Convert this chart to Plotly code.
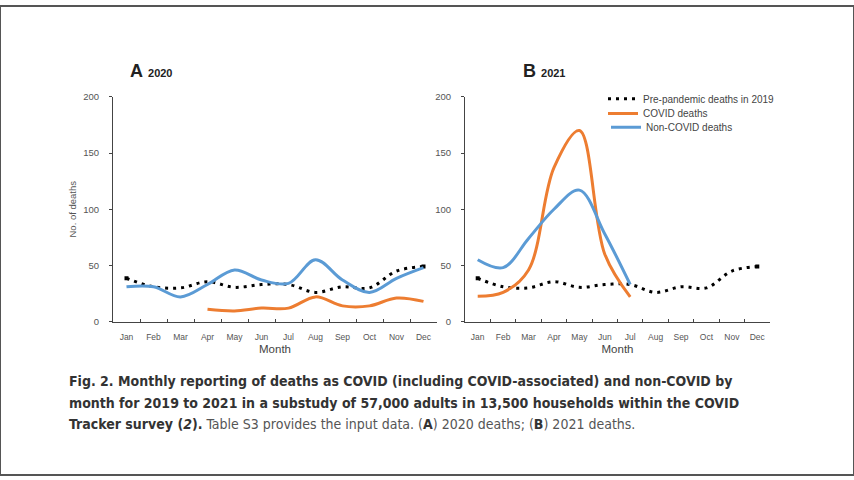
import plotly.graph_objects as go

months = ["Jan", "Feb", "Mar", "Apr", "May", "Jun", "Jul", "Aug", "Sep", "Oct", "Nov", "Dec"]
pre_2019 = [38.5, 31, 30, 35.5, 30.5, 33, 33, 26, 31, 30, 45, 49]
covid_2020 = [None, None, None, 11, 9.5, 12, 12, 22, 14, 14, 21, 18]
noncovid_2020 = [31, 31, 22, 33, 46, 37, 34, 55, 37, 26, 38.5, 48]
covid_2021 = [22.5, 26, 46, 137, 170, 60, 22]
noncovid_2021 = [55, 48, 74, 100, 117, 78, 33]

ORANGE = "#ED7D31"
BLUE = "#5B9BD5"
DOT = "3px,5px"
FONT = "Liberation Sans, Arial, sans-serif"

fig = go.Figure()

def add_panel(xa, ya, covid, noncovid, show_legend):
    fig.add_trace(go.Scatter(x=months, y=pre_2019, mode="lines", name="Pre-pandemic deaths in 2019",
                             line=dict(color="black", width=3, dash=DOT, shape="spline", smoothing=1),
                             xaxis=xa, yaxis=ya, showlegend=show_legend, legend="legend"))
    fig.add_trace(go.Scatter(x=[months[0], months[-1]], y=[pre_2019[0], pre_2019[-1]], mode="markers",
                             marker=dict(symbol="square", size=4, color="black"),
                             xaxis=xa, yaxis=ya, showlegend=False, hoverinfo="skip"))
    fig.add_trace(go.Scatter(x=months[:len(covid)], y=covid, mode="lines", name="COVID deaths",
                             line=dict(color=ORANGE, width=3, shape="spline", smoothing=1),
                             xaxis=xa, yaxis=ya, showlegend=show_legend, legend="legend2"))
    fig.add_trace(go.Scatter(x=months[:len(noncovid)], y=noncovid, mode="lines", name="Non-COVID deaths",
                             line=dict(color=BLUE, width=3, shape="spline", smoothing=1),
                             xaxis=xa, yaxis=ya, showlegend=show_legend, legend="legend3"))

add_panel("x", "y", covid_2020, noncovid_2020, False)
add_panel("x2", "y2", covid_2021, noncovid_2021, True)

y_dom = [(480 - 323) / 480, (480 - 93) / 480]
xcommon = dict(type="category", categoryorder="array", categoryarray=months, range=[-0.5, 11.5],
               showline=True, linecolor="#444", linewidth=1, ticks="inside", tickson="boundaries",
               ticklen=3, tickcolor="#444", tickfont=dict(size=8.5, color="#555", family=FONT),
               ticklabelstandoff=7, tickangle=0,
               showgrid=False, zeroline=False, fixedrange=True,
               title=dict(text="Month", font=dict(size=11.5, color="#444", family=FONT), standoff=4))
ycommon = dict(range=[0, 200], tickvals=[0, 50, 100, 150, 200], showline=True, linecolor="#444",
               linewidth=1, ticks="outside", ticklen=3, tickcolor="#444", ticklabelstandoff=8,
               tickfont=dict(size=9.5, color="#555", family=FONT), showgrid=False, zeroline=False,
               domain=y_dom, fixedrange=True)

leg = dict(xanchor="left", yanchor="middle", bgcolor="rgba(0,0,0,0)",
           font=dict(size=10, color="#444", family=FONT), itemwidth=30)

fig.update_layout(
    width=854, height=480, margin=dict(l=0, r=0, t=0, b=0),
    paper_bgcolor="white", plot_bgcolor="white",
    xaxis=dict(domain=[113 / 854, 437 / 854], anchor="y", **xcommon),
    yaxis=dict(anchor="x", title=dict(text="No. of deaths", font=dict(size=9.5, color="#555", family=FONT), standoff=4), **ycommon),
    xaxis2=dict(domain=[465 / 854, 770 / 854], anchor="y2", **xcommon),
    yaxis2=dict(anchor="x2", **ycommon),
    legend=dict(x=603 / 854, y=1 - 95 / 480, **leg),
    legend2=dict(x=603 / 854, y=1 - 110 / 480, **leg),
    legend3=dict(x=606 / 854, y=1 - 124 / 480, **leg),
    showlegend=True,
)

fig.add_annotation(x=128 / 854, y=1 - 67 / 480, xref="paper", yref="paper", xanchor="left", yanchor="middle",
                   showarrow=False,
                   text="<b>A</b> <b><span style='font-size:11px'>2020</span></b>",
                   font=dict(size=18, color="#222", family=FONT))
fig.add_annotation(x=521 / 854, y=1 - 67 / 480, xref="paper", yref="paper", xanchor="left", yanchor="middle",
                   showarrow=False,
                   text="<b>B</b> <b><span style='font-size:11px'>2021</span></b>",
                   font=dict(size=18, color="#222", family=FONT))

CAP = "DejaVu Sans Condensed, Liberation Sans Narrow, sans-serif"
caption_lines = [
    "<b>Fig. 2. Monthly reporting of deaths as COVID (including COVID-associated) and non-COVID by</b>",
    "<b>month for 2019 to 2021 in a substudy of 57,000 adults in 13,500 households within the COVID</b>",
    "<b>Tracker survey (<i>2</i>).</b> <span style='color:#555'>Table S3 provides the input data. (<b style='color:#333'>A</b>) 2020 deaths; (<b style='color:#333'>B</b>) 2021 deaths.</span>",
]
for i, line in enumerate(caption_lines):
    fig.add_annotation(x=67 / 854, y=1 - (384 + 22 * i) / 480, xref="paper", yref="paper",
                       xanchor="left", yanchor="middle", showarrow=False, text=line, align="left",
                       font=dict(size=14, color="#333", family=CAP))

# screenshot frame
fig.add_shape(type="rect", xref="paper", yref="paper", x0=0, y0=0, x1=1, y1=1,
              line=dict(color="#555", width=2), layer="above")

fig.write_html("out.html")
